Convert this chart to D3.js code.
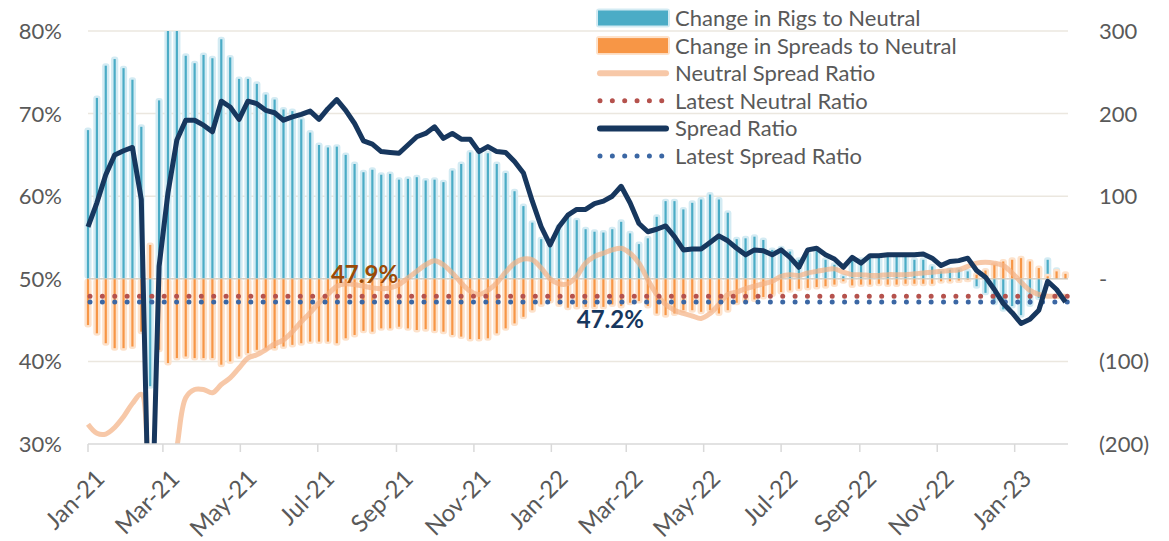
<!DOCTYPE html>
<html>
<head>
<meta charset="utf-8">
<script src="https://cdn.jsdelivr.net/npm/d3@7"></script>
<style>
  body { margin: 0; background: #fff; }
  svg text { font-family: Lato, "Open Sans", sans-serif; fill: #595959; }
</style>
</head>
<body>
<div id="chart"></div>
<script>
// weekly observations, first one on Fri 1 Jan 2021
var firstWeek = new Date(2021, 0, 1);
var weekCount = 111;

// change in rigs to neutral (right axis)
var rigChange = [180, 219, 258, 266, 255, 241, 184, -130, 216, 310, 305, 270, 261, 271, 267, 290, 268, 242, 242, 236,
  223, 217, 205, 203, 193, 177, 162, 159, 160, 150, 139, 129, 132, 126, 127, 120, 121, 123, 119, 120,
  117, 131, 139, 153, 153, 152, 139, 128, 106, 88, 68, 48, 45, 63, 75, 71, 60, 57, 56, 60,
  69, 55, 42, 49, 75, 94, 94, 84, 92, 96, 102, 96, 80, 48, 49, 51, 47, 35, 37, 33,
  23, 30, 35, 23, 17, 3, 25, 23, 27, 27, 27, 27, 27, 23, 23, 15, 9, 11, 11, 9,
  -9, -17, -29, -37, -33, -44, -31, -23, 23, 11, 5];

// change in spreads to neutral (right axis)
var spreadChange = [-56, -66, -78, -84, -84, -82, -64, 41, -86, -102, -96, -94, -96, -96, -96, -104, -100, -94, -90, -86,
  -84, -84, -82, -80, -78, -76, -76, -76, -78, -72, -68, -63, -64, -60, -60, -58, -60, -62, -61, -63,
  -64, -68, -70, -73, -73, -72, -66, -60, -54, -46, -38, -31, -27, -31, -35, -34, -34, -34, -34, -31,
  -33, -29, -27, -33, -42, -44, -42, -38, -38, -40, -38, -42, -38, -29, -27, -25, -22, -19, -16, -14,
  -12, -11, -10, -9, -7, -3, -8, -7, -7, -6, -7, -7, -6, -6, -6, -6, -3, -3, -2, -1,
  5, 10, 17, 21, 23, 25, 21, 13, 3, 9, 6];

// neutral spread ratio (%)
var neutralRatio = [32.4, 31.3, 31.2, 32.0, 33.3, 34.9, 36.0, 25.0, 22.0, 24.0, 29.6, 35.6, 36.6, 36.6, 36.2, 37.2, 38.0, 39.2, 40.4, 40.8,
  41.4, 42.1, 42.6, 43.6, 44.8, 45.9, 47.1, 48.1, 49.1, 49.4, 49.3, 49.1, 48.9, 48.8, 48.9, 49.3, 50.1, 50.9, 51.7, 52.2,
  51.7, 50.7, 49.5, 48.5, 48.1, 48.6, 49.5, 50.8, 51.9, 52.4, 52.3, 51.3, 50.0, 49.4, 49.4, 50.3, 51.9, 52.7, 53.1, 53.5,
  53.7, 53.1, 51.9, 49.9, 48.1, 46.9, 46.2, 45.8, 45.5, 45.2, 45.8, 46.9, 48.1, 48.4, 48.8, 49.1, 49.4, 49.7, 50.3, 50.5,
  50.4, 50.7, 50.9, 51.1, 51.2, 50.8, 50.5, 50.5, 50.4, 50.4, 50.5, 50.5, 50.5, 50.6, 50.7, 50.8, 50.9, 51.0, 51.1, 51.5,
  51.9, 52.0, 51.9, 51.6, 50.7, 49.6, 48.6, 48.1, 47.9, 47.9, 47.9];

// spread ratio (%)
var spreadRatio = [56.3, 59.2, 62.6, 65.0, 65.5, 65.9, 59.6, 12.0, 51.5, 60.4, 66.8, 69.2, 69.2, 68.6, 67.8, 71.5, 70.8, 69.3, 71.5, 71.2,
  70.4, 70.1, 69.2, 69.6, 69.9, 70.3, 69.3, 70.6, 71.7, 70.4, 68.8, 66.7, 66.3, 65.4, 65.3, 65.2, 66.2, 67.2, 67.6, 68.4,
  67.0, 67.6, 66.9, 66.9, 65.4, 66.0, 65.4, 65.3, 64.2, 62.8, 59.4, 56.3, 54.1, 56.3, 57.7, 58.4, 58.4, 59.1, 59.4, 60.0,
  61.2, 59.2, 56.7, 55.7, 56.0, 56.4, 55.1, 53.5, 53.6, 53.6, 54.4, 55.2, 54.6, 53.7, 52.9, 53.5, 53.4, 52.9, 53.5, 52.6,
  51.4, 53.5, 53.7, 52.9, 52.4, 51.4, 52.6, 51.9, 52.8, 52.8, 52.9, 52.9, 52.9, 52.9, 53.0, 52.5, 51.6, 52.1, 52.2, 52.5,
  51.0, 50.2, 48.7, 47.0, 45.9, 44.6, 45.1, 46.2, 49.7, 48.7, 47.2];

var latestNeutral = 47.9;
var latestSpread = 47.2;

var leftTicks = [30, 40, 50, 60, 70, 80];
var rightTicks = [-200, -100, 0, 100, 200, 300];

var legendItems = [
  {name: "Change in Rigs to Neutral", kind: "bar", color: "#4bacc6", glow: "#d3ebf3"},
  {name: "Change in Spreads to Neutral", kind: "bar", color: "#f79646", glow: "#fde2cb"},
  {name: "Neutral Spread Ratio", kind: "line", color: "#f7c8a8"},
  {name: "Latest Neutral Ratio", kind: "dots", color: "#b5524d"},
  {name: "Spread Ratio", kind: "line", color: "#17375e"},
  {name: "Latest Spread Ratio", kind: "dots", color: "#3b67a4"}
];

//--------------------------------------------------------------------------
//
// Geometry
//

var width = 1169, height = 541;
var plot = {left: 88, right: 1068, top: 31, bottom: 444};

var weeks = d3.range(weekCount).map(function(i) { return d3.timeDay.offset(firstWeek, 7 * i); });

var x = d3.scaleTime()
    .domain([firstWeek, new Date(2023, 1, 12)])
    .range([plot.left, plot.right]);
var yLeft = d3.scaleLinear().domain([30, 80]).range([plot.bottom, plot.top]);
var yRight = d3.scaleLinear().domain([-200, 300]).range([plot.bottom, plot.top]);

var svg = d3.select("#chart").append("svg")
    .attr("width", width)
    .attr("height", height);

svg.append("clipPath")
    .attr("id", "plotClip")
    .append("rect")
    .attr("x", plot.left - 6)
    .attr("y", plot.top)
    .attr("width", plot.right - plot.left + 12)
    .attr("height", plot.bottom - plot.top);

// gridlines
svg.append("g")
    .selectAll("line")
    .data(leftTicks.slice(1))
    .join("line")
    .attr("x1", plot.left)
    .attr("x2", plot.right)
    .attr("y1", function(d) { return yLeft(d); })
    .attr("y2", function(d) { return yLeft(d); })
    .attr("stroke", "#ebe7df")
    .attr("stroke-width", 1.5);

// left axis labels
svg.append("g")
    .selectAll("text")
    .data(leftTicks)
    .join("text")
    .attr("x", 62)
    .attr("y", function(d) { return yLeft(d); })
    .attr("dy", "0.36em")
    .attr("text-anchor", "end")
    .style("font-size", "22px")
    .text(function(d) { return d + "%"; });

// right axis labels
svg.append("g")
    .selectAll("text")
    .data(rightTicks)
    .join("text")
    .attr("x", 1099)
    .attr("y", function(d) { return yRight(d); })
    .attr("dy", "0.36em")
    .style("font-size", "22px")
    .text(function(d) { return d === 0 ? "-" : d < 0 ? "(" + (-d) + ")" : d; });

//--------------------------------------------------------------------------
//
// Bars
//

var barLayer = svg.append("g").attr("clip-path", "url(#plotClip)");

function drawBars(values, color, glow) {
  var g = barLayer.append("g");
  var y0 = yRight(0);
  g.selectAll("rect.glow")
      .data(values)
      .join("rect")
      .attr("class", "glow")
      .attr("x", function(d, i) { return x(weeks[i]) - 3.6; })
      .attr("y", function(d) { return Math.min(y0, yRight(d)) - (d > 0 ? 2.5 : 0); })
      .attr("width", 7.2)
      .attr("height", function(d) { return Math.abs(yRight(d) - y0) + 2.5; })
      .attr("rx", 3)
      .attr("fill", glow);
  g.selectAll("rect.bar")
      .data(values)
      .join("rect")
      .attr("class", "bar")
      .attr("x", function(d, i) { return x(weeks[i]) - 1.1; })
      .attr("y", function(d) { return Math.min(y0, yRight(d)); })
      .attr("width", 2.2)
      .attr("height", function(d) { return Math.abs(yRight(d) - y0); })
      .attr("fill", color);
}

drawBars(rigChange, legendItems[0].color, legendItems[0].glow);
drawBars(spreadChange, legendItems[1].color, legendItems[1].glow);

// zero line of the bar axis
svg.append("line")
    .attr("x1", plot.left)
    .attr("x2", plot.right)
    .attr("y1", yRight(0))
    .attr("y2", yRight(0))
    .attr("stroke", "#cfc8bb")
    .attr("stroke-opacity", 0.7)
    .attr("stroke-width", 1.5);

//--------------------------------------------------------------------------
//
// Lines
//

var lineLayer = svg.append("g").attr("clip-path", "url(#plotClip)");

lineLayer.append("path")
    .datum(neutralRatio)
    .attr("fill", "none")
    .attr("stroke", "#f4b183")
    .attr("stroke-opacity", 0.7)
    .attr("stroke-width", 5)
    .attr("stroke-linejoin", "round")
    .attr("d", d3.line()
      .x(function(d, i) { return x(weeks[i]); })
      .y(function(d) { return yLeft(d); })
      .curve(d3.curveCatmullRom.alpha(0.5)));

function dottedLevel(value, color) {
  lineLayer.append("line")
      .attr("x1", plot.left + 2)
      .attr("x2", plot.right)
      .attr("y1", yLeft(value))
      .attr("y2", yLeft(value))
      .attr("stroke", color)
      .attr("stroke-width", 5)
      .attr("stroke-linecap", "round")
      .attr("stroke-dasharray", "0 12.37");
}
dottedLevel(latestNeutral, legendItems[3].color);
dottedLevel(latestSpread, legendItems[5].color);

lineLayer.append("path")
    .datum(spreadRatio)
    .attr("fill", "none")
    .attr("stroke", "#17375e")
    .attr("stroke-width", 5)
    .attr("stroke-linejoin", "round")
    .attr("d", d3.line()
      .x(function(d, i) { return x(weeks[i]); })
      .y(function(d) { return yLeft(d); }));

// value labels
svg.append("text")
    .attr("x", x(weeks[27]) + 3)
    .attr("y", yLeft(latestNeutral) - 13)
    .style("font-size", "24px")
    .style("font-weight", "bold")
    .style("fill", "#9c4a06")
    .text(latestNeutral.toFixed(1) + "%");

svg.append("text")
    .attr("x", x(weeks[55]))
    .attr("y", yLeft(latestSpread) + 26)
    .style("font-size", "24px")
    .style("font-weight", "bold")
    .style("fill", "#17375e")
    .text(latestSpread.toFixed(1) + "%");

//--------------------------------------------------------------------------
//
// X axis
//

var xTicks = d3.timeMonth.every(2).range(firstWeek, new Date(2023, 1, 2));

svg.append("line")
    .attr("x1", plot.left)
    .attr("x2", plot.right)
    .attr("y1", plot.bottom)
    .attr("y2", plot.bottom)
    .attr("stroke", "#d9d9d9")
    .attr("stroke-width", 1.5);

svg.append("g")
    .selectAll("line")
    .data(xTicks)
    .join("line")
    .attr("x1", function(d) { return x(d); })
    .attr("x2", function(d) { return x(d); })
    .attr("y1", plot.bottom)
    .attr("y2", plot.bottom + 8)
    .attr("stroke", "#d9d9d9")
    .attr("stroke-width", 1.5);

svg.append("g")
    .selectAll("text")
    .data(xTicks)
    .join("text")
    .attr("transform", function(d) { return "translate(" + (x(d) + 12) + "," + 474 + ") rotate(-45)"; })
    .attr("text-anchor", "end")
    .attr("dy", "0.36em")
    .style("font-size", "24px")
    .text(d3.timeFormat("%b-%y"));

//--------------------------------------------------------------------------
//
// Legend
//

var legend = svg.append("g").attr("transform", "translate(598,18)");
var rowStep = 27.6;

legendItems.forEach(function(item, i) {
  var row = legend.append("g").attr("transform", "translate(0," + (i * rowStep) + ")");
  if (item.kind === "bar") {
    row.append("rect").attr("x", -2).attr("y", -9.5).attr("width", 74).attr("height", 19)
        .attr("rx", 3).attr("fill", item.glow);
    row.append("rect").attr("x", 0).attr("y", -7.5).attr("width", 70).attr("height", 15)
        .attr("fill", item.color);
  } else if (item.kind === "line") {
    row.append("line").attr("x1", 2).attr("x2", 68).attr("y1", 0).attr("y2", 0)
        .attr("stroke", item.color).attr("stroke-width", 6).attr("stroke-linecap", "round");
  } else {
    row.append("line").attr("x1", 2).attr("x2", 64).attr("y1", 0).attr("y2", 0)
        .attr("stroke", item.color).attr("stroke-width", 5).attr("stroke-linecap", "round")
        .attr("stroke-dasharray", "0 12.35");
  }
  row.append("text")
      .attr("x", 77)
      .attr("y", 0)
      .attr("dy", "0.36em")
      .style("font-size", "22px")
      .text(item.name);
});
</script>
</body>
</html>
